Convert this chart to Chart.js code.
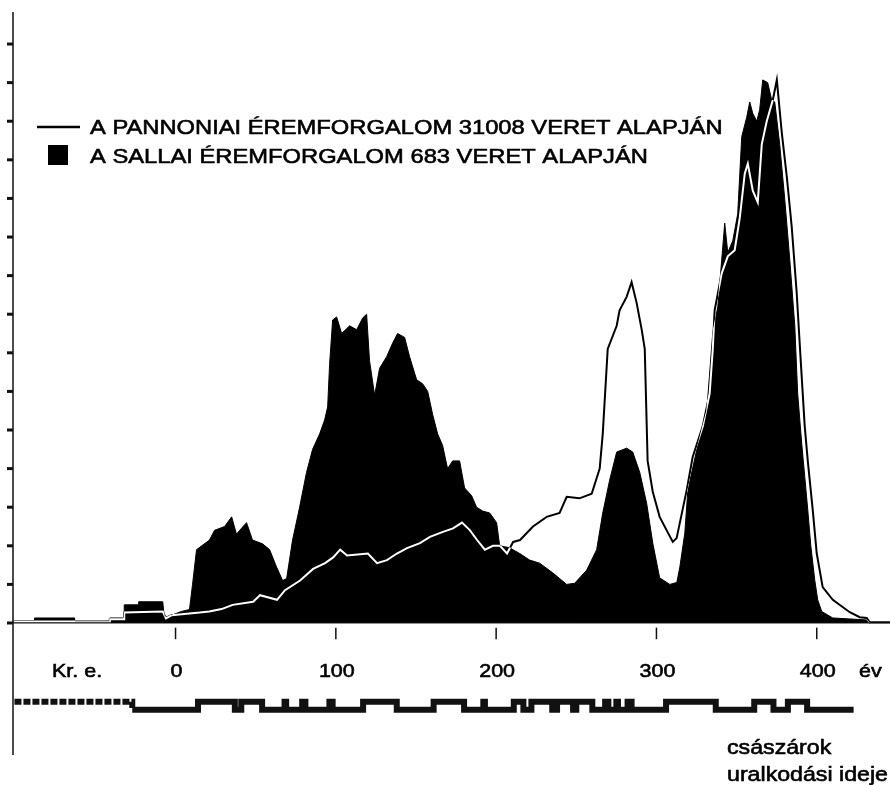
<!DOCTYPE html>
<html>
<head>
<meta charset="utf-8">
<script src="https://cdn.jsdelivr.net/npm/chart.js@4.4.0/dist/chart.umd.min.js"></script>
<style>
  body { margin: 0; background: #fff; }
  #wrap { width: 890px; height: 785px; }
</style>
</head>
<body>
<div id="wrap"><canvas id="chart"></canvas></div>
<script>
// Pannonian coin circulation (31008 coins), years / relative value
const pannonYears = [-101, -41, -41, -32, -32, -8, -6, -2.5, 15, 21, 28.7, 35.6, 48.4, 52.7, 63.3, 68.3, 77.7, 85.8, 93.3, 98.3,
  102.7, 107, 120, 125.7, 131.9, 138.1, 144.4, 152.5, 158.7, 166.8, 173.1, 178.7, 183.7, 188.1, 193, 198, 202.4, 206.8, 210.6, 214.9,
  223, 231.5, 239.6, 244, 252, 259.6, 264.6, 266.5, 269.6, 275.2, 277, 281.4, 284.5, 287.6, 290.8, 292.7, 294.5, 297.7, 302, 306.4,
  310.2, 312.6, 318.9, 322.6, 328.9, 333.2, 335.1, 336.3, 340.7, 344.5, 348.8, 352, 355.1, 357, 360.1, 363.2, 365.7, 368.8, 372.6, 375.1,
  378.2, 381.3, 384.4, 387.5, 390, 392.5, 394.4, 397.5, 400, 403.7, 410, 420.6, 426.8, 431.2, 433, 446];
const pannonValues = [0.04, 0.04, 0.1, 0.1, 0.27, 0.3, 0.12, 0.2, 0.27, 0.3, 0.36, 0.47, 0.55, 0.72, 0.6, 0.85, 1.1, 1.4, 1.55, 1.7,
  1.9, 1.75, 1.8, 1.55, 1.63, 1.8, 1.94, 2.07, 2.23, 2.36, 2.45, 2.6, 2.4, 2.15, 1.9, 2.0, 2.0, 1.8, 2.1, 2.15,
  2.5, 2.75, 2.85, 3.27, 3.23, 3.35, 4.0, 4.9, 7.1, 7.7, 8.1, 8.45, 8.83, 8.3, 7.6, 7.1, 4.2, 3.4, 2.75, 2.4,
  2.1, 2.2, 3.45, 4.3, 5.1, 5.95, 7.07, 8.1, 9.06, 9.5, 9.66, 10.5, 11.65, 11.9, 11.2, 10.9, 12.4, 13.0, 13.55, 14.07,
  12.7, 11.57, 10.26, 8.55, 6.8, 5.1, 4.2, 2.93, 1.8, 0.93, 0.6, 0.28, 0.15, 0.13, 0.02, 0.02];

// Sallai coin circulation (683 coins)
const sallaiYears = [-101, -88, -88, -63, -63, -41, -41, -32, -32, -23, -23, -8, -7, -2.5, 3.7, 8.7, 10.6, 13.1, 21.2, 24.3,
  30.6, 35, 38, 40, 44.3, 48, 54.3, 58.7, 63, 66.8, 69.3, 73, 77.4, 81.7, 85.5, 89.9, 93, 94.9, 96.1, 98,
  100.5, 103.6, 108.6, 113, 116.7, 119.2, 121, 124.2, 127.3, 131.7, 135.4, 138.5, 142.9, 146, 150.4, 154.1, 157.3, 160.4, 163.5, 166.6,
  169.7, 172.9, 177.2, 180.3, 184.7, 187.8, 191.6, 196, 200.3, 202.2, 208.4, 214.7, 220.9, 227.1, 235.3, 244, 249, 256.5, 262.7, 266.5,
  270.8, 275.2, 281.4, 285.2, 289.6, 293.9, 297.7, 302, 308.3, 312.7, 314.6, 317.7, 319.6, 325.2, 331.4, 335.1, 338.3, 340.7, 342.6, 344.5,
  347.6, 350.7, 353.2, 356.3, 358.2, 360.1, 362.6, 364.4, 366.3, 369.4, 371.9, 373.8, 376.9, 380, 383.2, 386.3, 388.1, 390.6, 392.5, 394.4,
  396.3, 398.8, 400.6, 403.1, 410, 431, 433];
const sallaiValues = [0.05, 0.05, 0.13, 0.13, 0.03, 0.03, 0.13, 0.13, 0.47, 0.47, 0.55, 0.55, 0.15, 0.2, 0.3, 0.35, 1.0, 1.9, 2.15, 2.4,
  2.5, 2.75, 2.3, 2.4, 2.6, 2.15, 2.05, 1.9, 1.45, 1.1, 1.15, 2.15, 3.0, 3.9, 4.5, 4.9, 5.26, 5.6, 6.7, 7.85,
  7.93, 7.5, 7.7, 7.6, 7.9, 8.0, 6.8, 5.9, 6.6, 6.9, 7.25, 7.5, 7.4, 6.9, 6.3, 6.2, 6.0, 5.4, 4.9, 4.6,
  4.0, 4.2, 4.2, 3.5, 3.3, 3.0, 2.9, 2.85, 2.6, 2.0, 1.95, 1.8, 1.63, 1.55, 1.3, 1.0, 1.03, 1.37, 1.9, 2.85,
  3.7, 4.43, 4.53, 4.43, 3.9, 3.1, 2.07, 1.17, 1.0, 1.05, 1.45, 2.33, 3.45, 4.5, 5.5, 7.5, 8.2, 9.4, 10.36, 9.6,
  9.9, 10.6, 12.6, 13.1, 13.5, 13.2, 13.0, 13.3, 14.07, 14.0, 13.55, 13.5, 12.4, 11.0, 9.4, 7.7, 5.95, 4.66, 3.8, 2.93,
  2.0, 1.1, 0.6, 0.3, 0.13, 0.08, 0];

// emperors' reigns: start years (first entry = before Augustus), last entry = end
const reignStarts = [-100.5, -27, 14, 37, 41, 54, 68, 69, 79, 81, 96, 98, 117, 138, 161, 180, 192, 193, 211, 217, 222, 235, 238,
  248, 250, 260, 268, 270, 275, 276, 282, 284.5, 306, 337, 361, 373, 382, 394];
const reignEnd = 423;

const xTickYears = [0, 100, 200, 300, 400];
const xTickLabels = ['0', '100', '200', '300', '400'];
const yTickValues = [0, 1, 2, 3, 4, 5, 6, 7, 8, 9, 10, 11, 12, 13, 14, 15];

const seriesLabels = ['A PANNONIAI ÉREMFORGALOM 31008 VERET ALAPJÁN', 'A SALLAI ÉREMFORGALOM 683 VERET ALAPJÁN'];

const REIGN_UP = -2.04;
const REIGN_LOW = -2.25;
const FONT = '"Liberation Sans", Arial, sans-serif';

function toPoints(xs, ys) {
  return xs.map((x, i) => ({ x: x, y: ys[i] }));
}

const reignPoints = reignStarts.map((s, i) => ({ x: s, y: i % 2 === 0 ? REIGN_UP : REIGN_LOW }));
reignPoints.push({ x: reignEnd, y: reignPoints[reignPoints.length - 1].y });

// text is a bit wider and heavier than Arial in the scan
function wideText(ctx, text, x, y, size, align) {
  ctx.save();
  ctx.font = size + 'px ' + FONT;
  ctx.translate(x, y);
  ctx.scale(1.13, 1);
  ctx.textAlign = align || 'left';
  ctx.textBaseline = 'alphabetic';
  ctx.fillStyle = '#000';
  ctx.strokeStyle = '#000';
  ctx.lineWidth = 0.6;
  ctx.fillText(text, 0, 0);
  ctx.strokeText(text, 0, 0);
  ctx.restore();
}

const paperPlugin = {
  id: 'paper',
  beforeDraw(chart) {
    const ctx = chart.ctx;
    ctx.save();
    ctx.fillStyle = '#fff';
    ctx.fillRect(0, 0, chart.width, chart.height);
    ctx.restore();
  },
  // the Pannonian line shows black on white and white on the black area
  beforeDatasetDraw(chart, args) {
    if (args.index === 0) chart.ctx.globalCompositeOperation = 'difference';
  },
  afterDatasetDraw(chart, args) {
    if (args.index === 0) chart.ctx.globalCompositeOperation = 'source-over';
  },
  afterDatasetsDraw(chart) {
    const ctx = chart.ctx;
    const xs = chart.scales.x, ys = chart.scales.y;
    const y0 = ys.getPixelForValue(0);
    ctx.save();
    ctx.strokeStyle = '#111';

    // y axis
    ctx.lineWidth = 1.5;
    ctx.beginPath();
    ctx.moveTo(xs.left, ys.top);
    ctx.lineTo(xs.left, ys.bottom);
    ctx.stroke();
    ctx.lineWidth = 3;
    yTickValues.forEach(v => {
      const py = ys.getPixelForValue(v);
      ctx.beginPath();
      ctx.moveTo(xs.left - 6, py);
      ctx.lineTo(xs.left, py);
      ctx.stroke();
    });

    // baseline
    ctx.lineWidth = 1;
    ctx.beginPath();
    ctx.moveTo(xs.left, y0);
    ctx.lineTo(xs.right, y0);
    ctx.stroke();

    // x ticks + labels
    ctx.lineWidth = 1.5;
    xTickYears.forEach((v, i) => {
      const px = xs.getPixelForValue(v);
      ctx.beginPath();
      ctx.moveTo(px, ys.getPixelForValue(-0.12));
      ctx.lineTo(px, ys.getPixelForValue(-0.42));
      ctx.stroke();
      wideText(ctx, xTickLabels[i], px + 1, ys.getPixelForValue(-1.4), 19, 'center');
    });
    wideText(ctx, 'Kr. e.', 52, ys.getPixelForValue(-1.4), 19);
    wideText(ctx, 'év', 859, ys.getPixelForValue(-1.4), 19);

    // legend
    ctx.lineWidth = 2.5;
    ctx.strokeStyle = '#000';
    ctx.beginPath();
    ctx.moveTo(37, 127);
    ctx.lineTo(80, 127);
    ctx.stroke();
    ctx.fillStyle = '#000';
    ctx.fillRect(48, 145, 20, 20);
    wideText(ctx, chart.data.datasets[0].label, 90, 134, 21);
    wideText(ctx, chart.data.datasets[1].label, 90, 163, 21);

    // reign caption
    wideText(ctx, 'császárok', 727, 754, 20.5);
    wideText(ctx, 'uralkodási ideje', 727, 781, 20.5);
    ctx.restore();
  }
};

new Chart(document.getElementById('chart'), {
  type: 'line',
  data: {
    datasets: [
      {
        label: seriesLabels[0],
        data: toPoints(pannonYears, pannonValues),
        borderColor: '#fff',
        borderWidth: 2,
        pointRadius: 0,
        fill: false,
        tension: 0
      },
      {
        label: seriesLabels[1],
        data: toPoints(sallaiYears, sallaiValues),
        borderColor: '#000',
        backgroundColor: '#000',
        borderWidth: 1,
        pointRadius: 0,
        fill: 'origin',
        tension: 0
      },
      {
        label: 'császárok uralkodási ideje',
        data: reignPoints,
        borderColor: '#111',
        borderWidth: 6,
        borderCapStyle: 'butt',
        pointRadius: 0,
        fill: false,
        stepped: true,
        segment: {
          borderDash: c => c.p0DataIndex === 0 ? [7, 2] : undefined
        }
      }
    ]
  },
  options: {
    responsive: true,
    maintainAspectRatio: false,
    animation: false,
    devicePixelRatio: 1,
    layout: { padding: { left: 13, right: 0, top: 12, bottom: 30 } },
    scales: {
      x: { type: 'linear', min: -101.4, max: 445.7, display: false },
      y: { type: 'linear', min: -3.42, max: 15.83, display: false }
    },
    plugins: {
      legend: { display: false },
      tooltip: { enabled: false }
    }
  },
  plugins: [paperPlugin]
});
</script>
</body>
</html>
